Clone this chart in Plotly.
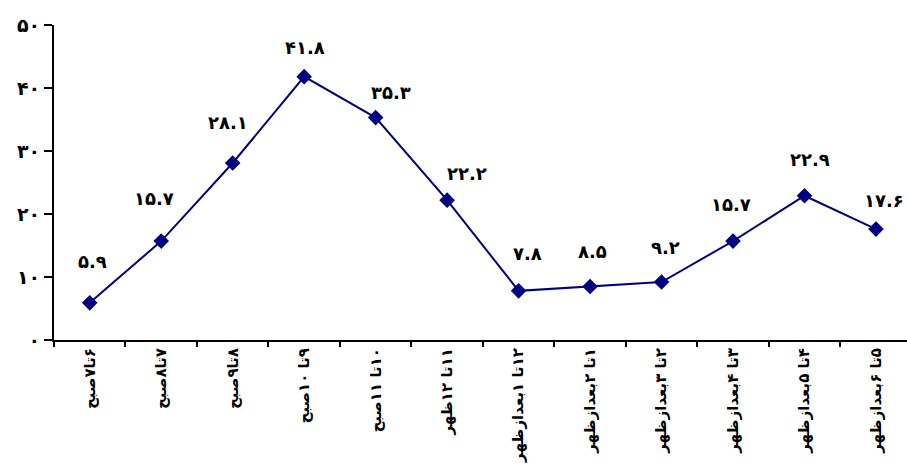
import plotly.graph_objects as go

# Hourly time slots (Persian)
hours = [
    "۶تا۷صبح",
    "۷تا۸صبح",
    "۸تا۹صبح",
    "۹تا ۱۰صبح",
    "۱۰تا ۱۱صبح",
    "۱۱تا ۱۲ظهر",
    "۱۲تا ۱بعدازظهر",
    "۱تا ۲بعدازظهر",
    "۲تا ۳بعدازظهر",
    "۳تا ۴بعدازظهر",
    "۴تا ۵بعدازظهر",
    "۵تا ۶بعدازظهر",
]
values = [5.9, 15.7, 28.1, 41.8, 35.3, 22.2, 7.8, 8.5, 9.2, 15.7, 22.9, 17.6]
y_ticks = [0, 10, 20, 30, 40, 50]

FA_DIGITS = str.maketrans("0123456789", "۰۱۲۳۴۵۶۷۸۹")


def fa(s):
    return str(s).translate(FA_DIGITS)


def rtl(s):
    # force right-to-left base direction inside the SVG text
    return "\u202b" + s + "\u202c"


# pixel offsets of the value labels relative to their markers
label_dx = [3, -7, -5, 1, 15, 20, 9, 2, 4, -2, 5, 8]
label_dy = [41, 43, 40, 29, 25, 27, 37, 35, 35, 37, 36, 29]

NAVY = "#000080"
FONT = "DejaVu Sans"

x_pos = list(range(len(hours)))
bounds = [i - 0.5 for i in range(len(hours) + 1)]

fig = go.Figure()
fig.add_trace(go.Scatter(
    x=x_pos, y=values, mode="lines+markers",
    line=dict(color=NAVY, width=2),
    marker=dict(symbol="diamond", size=12, color=NAVY),
    showlegend=False, hoverinfo="skip",
))
# empty trace that carries the boundary-tick axis
fig.add_trace(go.Scatter(x=[], y=[], xaxis="x2", showlegend=False,
                         hoverinfo="skip"))

for xp, v, dx, dy in zip(x_pos, values, label_dx, label_dy):
    fig.add_annotation(
        x=xp, y=v, text="<b>" + fa(v) + "</b>", showarrow=False,
        xshift=dx, yshift=dy,
        font=dict(family=FONT, size=18, color="black"),
    )

fig.update_layout(
    width=907, height=466,
    margin=dict(l=54, r=0, t=25, b=126),
    paper_bgcolor="white", plot_bgcolor="white",
    font=dict(family=FONT, color="black"),
    xaxis2=dict(
        overlaying="x", matches="x", side="bottom", tickvals=bounds,
        ticks="outside", ticklen=6, tickwidth=2, tickcolor="black",
        showticklabels=False, showgrid=False, zeroline=False,
        showline=False, automargin=False,
    ),
)
fig.layout.xaxis.update(
    range=[-0.5, 11.434],
    tickvals=x_pos, ticktext=[rtl(h) for h in hours],
    ticks="", showline=True, linecolor="black", linewidth=2,
    showgrid=False, zeroline=False, tickangle=-90, automargin=False,
    tickfont=dict(family=FONT, size=15, color="black", weight="bold"),
)
fig.update_yaxes(
    range=[0, 50], tickvals=y_ticks, ticktext=[fa(t) for t in y_ticks],
    ticks="outside", ticklen=8, tickwidth=2, tickcolor="black",
    showline=True, linecolor="black", linewidth=2, showgrid=False,
    zeroline=False, automargin=False,
    tickfont=dict(family=FONT, size=19, color="black", weight="bold"),
)

fig.write_html("out.html")
